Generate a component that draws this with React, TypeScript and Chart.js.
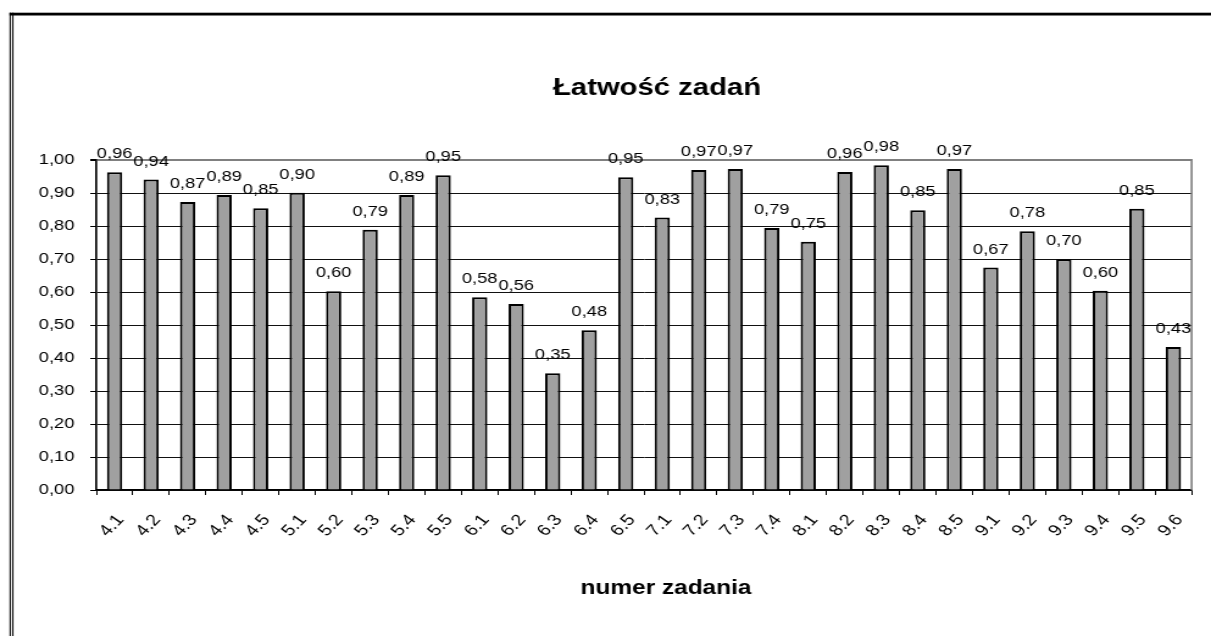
import React, { useEffect, useRef } from 'react';
import { Chart, registerables } from 'chart.js';

Chart.register(...registerables);

// ---- data ----
const categories = [
  '4.1', '4.2', '4.3', '4.4', '4.5',
  '5.1', '5.2', '5.3', '5.4', '5.5',
  '6.1', '6.2', '6.3', '6.4', '6.5',
  '7.1', '7.2', '7.3', '7.4',
  '8.1', '8.2', '8.3', '8.4', '8.5',
  '9.1', '9.2', '9.3', '9.4', '9.5', '9.6',
];
const easiness = [
  0.963, 0.941, 0.873, 0.894, 0.854,
  0.901, 0.602, 0.789, 0.894, 0.954,
  0.584, 0.564, 0.354, 0.484, 0.948,
  0.826, 0.970, 0.973, 0.794,
  0.752, 0.964, 0.984, 0.848, 0.973,
  0.674, 0.784, 0.699, 0.604, 0.852, 0.433,
];
const yMin = 0;
const yMax = 1;
const yStep = 0.1;
const chartTitle = 'Łatwość zadań';
const xAxisTitle = 'numer zadania';

// ---- geometry ----
const OUT_W = 1211;
const OUT_H = 636;
const INNER_W = 993;
const SX = OUT_W / INNER_W;
const FONT = '"Liberation Sans", Arial, Helvetica, sans-serif';

const fmt = (v: number) => v.toFixed(2).replace('.', ',');

const framePlugin = {
  id: 'frame',
  beforeDraw(chart: any) {
    const { ctx, width, height } = chart;
    ctx.save();
    ctx.fillStyle = '#ffffff';
    ctx.fillRect(0, 0, width, height);
    ctx.fillStyle = '#000000';
    ctx.fillRect(9.5 / SX, 12.7, width, 2.8);
    ctx.fillRect(9.5 / SX, 12.7, 1.3 / SX, height);
    ctx.fillRect(12.2 / SX, 12.7, 1.3 / SX, height);
    ctx.restore();
  },
  afterDatasetsDraw(chart: any) {
    const { ctx } = chart;
    const meta = chart.getDatasetMeta(0);
    const data = chart.data.datasets[0].data as number[];
    ctx.save();
    ctx.fillStyle = '#000000';
    ctx.font = `15px ${FONT}`;
    ctx.textAlign = 'center';
    ctx.textBaseline = 'middle';
    meta.data.forEach((el: any, i: number) => {
      ctx.fillText(fmt(data[i]), el.x, el.y - 18);
    });
    ctx.restore();
  },
  afterDraw(chart: any) {
    const { ctx, chartArea } = chart;
    ctx.save();
    // right border of plot area
    ctx.strokeStyle = '#808080';
    ctx.lineWidth = 2 / SX;
    ctx.beginPath();
    ctx.moveTo(chartArea.right, chartArea.top - 1);
    ctx.lineTo(chartArea.right, chartArea.bottom);
    ctx.stroke();
    // titles
    ctx.fillStyle = '#000000';
    ctx.textAlign = 'center';
    ctx.textBaseline = 'alphabetic';
    ctx.font = `bold 24px ${FONT}`;
    ctx.fillText(chartTitle, 657 / SX, 95);
    ctx.font = `bold 20px ${FONT}`;
    ctx.fillText(xAxisTitle, 666 / SX, 594);
    ctx.restore();
  },
};

export default function App() {
  const canvasRef = useRef<HTMLCanvasElement | null>(null);

  useEffect(() => {
    const canvas = canvasRef.current;
    if (!canvas) return;
    const yTickCount = Math.round((yMax - yMin) / yStep);
    const chart = new Chart(canvas, {
      type: 'bar',
      data: {
        labels: categories,
        datasets: [
          {
            data: easiness,
            backgroundColor: '#a0a0a0',
            borderColor: '#000000',
            borderWidth: 2,
            barPercentage: 0.417,
            categoryPercentage: 1,
          },
        ],
      },
      options: {
        responsive: false,
        maintainAspectRatio: false,
        devicePixelRatio: 1,
        animation: false,
        events: [],
        layout: { padding: { left: 0, right: 9, top: 160, bottom: 0 } },
        plugins: {
          legend: { display: false },
          title: { display: false },
          tooltip: { enabled: false },
        },
        scales: {
          x: {
            type: 'category',
            offset: true,
            afterFit: (scale: any) => {
              scale.height = OUT_H - 490;
            },
            grid: {
              offset: true,
              drawOnChartArea: false,
              drawTicks: true,
              tickLength: 5,
              color: '#000000',
              tickColor: '#000000',
            },
            border: { display: true, color: '#000000', width: 1.5 },
            ticks: {
              autoSkip: false,
              maxRotation: 50,
              minRotation: 50,
              padding: 16,
              labelOffset: 5,
              color: '#000000',
              font: { family: FONT, size: 16 },
            },
          },
          y: {
            min: yMin,
            max: yMax,
            afterFit: (scale: any) => {
              scale.width = 79;
            },
            afterBuildTicks: (scale: any) => {
              const t = [];
              for (let i = 0; i <= yTickCount; i++) t.push({ value: +(yMin + i * yStep).toFixed(2) });
              scale.ticks = t;
            },
            grid: {
              color: (c: any) => (c.tick && c.tick.value >= yMax ? '#808080' : '#111111'),
              lineWidth: (c: any) => (c.tick && c.tick.value >= yMax ? 2 : 1),
              tickColor: '#000000',
              tickLength: 5,
              drawTicks: true,
            },
            border: { display: true, color: '#000000', width: 1.7 },
            ticks: {
              padding: 13,
              color: '#000000',
              font: { family: FONT, size: 15 },
              callback: (v: any) => fmt(Number(v)),
            },
          },
        },
      },
      plugins: [framePlugin],
    } as any);
    return () => chart.destroy();
  }, []);

  return (
    <div style={{ position: 'fixed', left: 0, top: 0, width: OUT_W, height: OUT_H, background: '#fff' }}>
      <canvas
        ref={canvasRef}
        width={INNER_W}
        height={OUT_H}
        style={{ display: 'block', width: `${OUT_W}px`, height: `${OUT_H}px` }}
      />
    </div>
  );
}
